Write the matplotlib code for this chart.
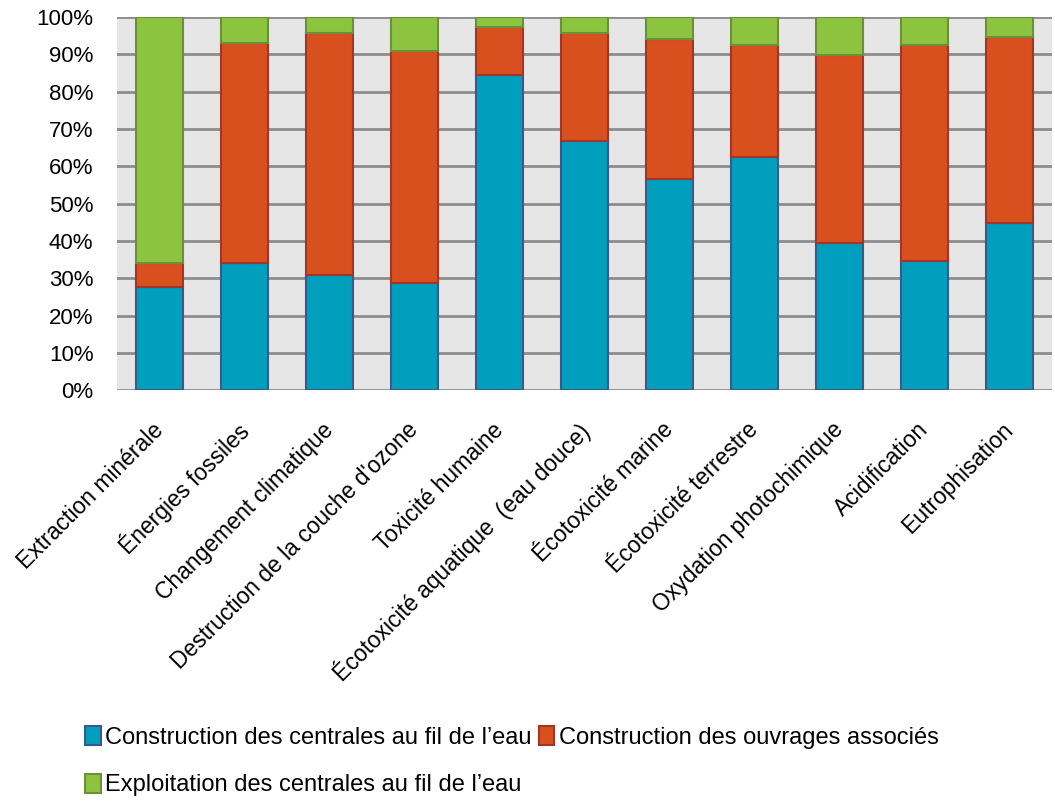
import matplotlib
matplotlib.use('Agg')
import matplotlib.pyplot as plt
import numpy as np
from matplotlib.patches import Patch
from matplotlib.ticker import PercentFormatter
from matplotlib.transforms import ScaledTranslation

plt.rcParams['font.family'] = ['Liberation Sans', 'DejaVu Sans']

# categories and shares (in %)
categories = ['Extraction minérale', 'Énergies fossiles', 'Changement climatique',
              "Destruction de la couche d'ozone", 'Toxicité humaine',
              'Écotoxicité aquatique  (eau douce)', 'Écotoxicité marine',
              'Écotoxicité terrestre', 'Oxydation photochimique',
              'Acidification', 'Eutrophisation']
centrales = [27.8, 34.1, 31.0, 28.8, 84.3, 66.7, 56.6, 62.5, 39.5, 34.6, 44.9]
ouvrages = [6.2, 58.9, 64.6, 62.0, 12.9, 28.9, 37.4, 29.9, 50.3, 57.8, 49.6]
exploitation = [66.0, 7.0, 4.4, 9.2, 2.8, 4.4, 6.0, 7.6, 10.2, 7.6, 5.5]
series_names = ['Construction des centrales au fil de l’eau',
                'Construction des ouvrages associés',
                'Exploitation des centrales au fil de l’eau']

colors = ['#009fbe', '#d9501f', '#8cc43f']
edges = ['#3a5a8c', '#a03528', '#6e8f3a']

fig = plt.figure(figsize=(10.55, 8.01), dpi=100)
ax = fig.add_axes([0.111, 0.5125, 0.886, 0.4665])

x = np.arange(len(categories))
bottom = np.zeros(len(categories))
for vals, c, e in zip([centrales, ouvrages, exploitation], colors, edges):
    vals = np.array(vals) / 100.0
    ax.bar(x, vals, 0.55, bottom=bottom, color=c, edgecolor=e, linewidth=1.5, zorder=3)
    bottom += vals

ax.set_facecolor('#e6e6e6')
ax.set_xlim(-0.5, len(categories) - 0.5)
ax.set_ylim(0, 1)
ax.set_yticks(np.arange(0, 1.01, 0.1))
ax.yaxis.set_major_formatter(PercentFormatter(1.0, decimals=0))
ax.grid(axis='y', color='#8c8c8c', linewidth=2, zorder=0)
ax.set_axisbelow(True)
for s in ax.spines.values():
    s.set_visible(False)
ax.tick_params(axis='y', length=0, labelsize=16, pad=17)
ax.set_xticks(x)
ax.set_xticklabels(categories, rotation=45, ha='right', rotation_mode='anchor', fontsize=16.5)
ax.tick_params(axis='x', length=0, pad=20)
# nudge the rotated labels a little to the left
shift = ScaledTranslation(-0.08, 0, fig.dpi_scale_trans)
for lbl in ax.get_xticklabels():
    lbl.set_transform(lbl.get_transform() + shift)

handles = [Patch(facecolor=c, edgecolor=e, linewidth=1.5) for c, e in zip(colors, edges)]
order = [0, 2, 1]
fig.legend([handles[i] for i in order], [series_names[i] for i in order],
           loc='upper left', bbox_to_anchor=(0.072, 0.105), ncol=2, frameon=False,
           fontsize=17, handlelength=0.65, handleheight=0.85, handletextpad=0.2,
           columnspacing=0.3, labelspacing=1.05, borderaxespad=0)

fig.savefig('out.png', dpi=100)
